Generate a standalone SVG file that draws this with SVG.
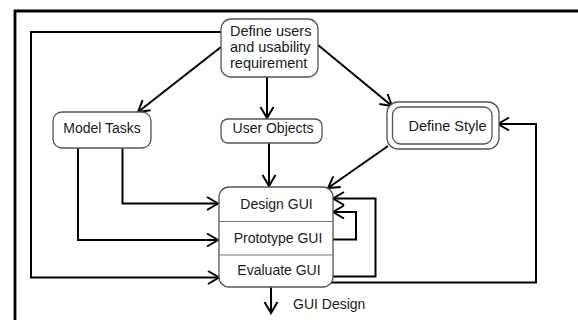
<svg xmlns="http://www.w3.org/2000/svg" width="578" height="320" viewBox="0 0 578 320">
  <style>
    .node { fill: #fff; stroke: #555; stroke-width: 1.3; }
    .divider { stroke: #777; stroke-width: 1.2; fill: none; }
    .label { font-family: "Liberation Sans", Arial, sans-serif; font-size: 14px; fill: #1a1a1a; }
    .mid { text-anchor: middle; }
    .wire { fill: none; stroke: #000; stroke-width: 2; }
    .arrow { marker-end: url(#open-arrow); }
    .frame { fill: none; stroke: #000; stroke-width: 2.8; }
  </style>
  <defs>
    <marker id="open-arrow" markerUnits="userSpaceOnUse" markerWidth="14" markerHeight="16" viewBox="0 0 14 16" refX="12" refY="8" orient="auto">
      <path d="M1,1.5 L12,8 L1,14.5" fill="none" stroke="#000" stroke-width="2"/>
    </marker>
  </defs>

  <rect x="0" y="0" width="578" height="320" fill="#fff"/>

  <!-- page frame -->
  <path class="frame" d="M15,320 V11 H578"/>

  <g id="connectors">
    <!-- requirements fan-out -->
    <path class="wire arrow" d="M221,47 L138,112"/>
    <path class="wire arrow" d="M267,77 V118"/>
    <path class="wire arrow" d="M318,45 L392,106"/>
    <!-- requirements to evaluation -->
    <path class="wire arrow" d="M221,32 H31 V277.5 H219"/>
    <!-- model tasks to design / prototype -->
    <path class="wire arrow" d="M122.5,148 V203.5 H218"/>
    <path class="wire arrow" d="M78,148 V240 H218"/>
    <!-- user objects to design -->
    <path class="wire arrow" d="M269,143 V186"/>
    <!-- style to design -->
    <path class="wire arrow" d="M388,146 L328,188"/>
    <!-- iteration loops -->
    <path class="wire arrow" d="M333,276.5 H375.5 V198.5 H333"/>
    <path class="wire arrow" d="M333,239.5 H356 V212 H333"/>
    <path class="wire arrow" d="M330,282.5 H536 V124 H498"/>
    <!-- output -->
    <path class="wire arrow" d="M271,287 V313"/>
  </g>

  <g id="define-users">
    <rect class="node" x="221" y="19" width="97" height="58" rx="10"/>
    <text class="label" x="230" y="36" style="font-size:14.5px">Define users</text>
    <text class="label" x="230" y="52" style="font-size:14.5px">and usability</text>
    <text class="label" x="230" y="68" style="font-size:14.5px">requirement</text>
  </g>

  <g id="model-tasks">
    <rect class="node" x="53" y="112" width="98" height="36" rx="9"/>
    <text class="label mid" x="102" y="133">Model Tasks</text>
  </g>

  <g id="user-objects">
    <rect class="node" x="221" y="119" width="101" height="24" rx="7"/>
    <text class="label mid" x="273" y="133">User Objects</text>
  </g>

  <g id="define-style">
    <rect class="node" x="387" y="102" width="112" height="47" rx="11"/>
    <rect class="node" x="392.5" y="107" width="99.5" height="37" rx="8"/>
    <text class="label mid" x="447.5" y="130.5" style="font-size:14.5px">Define Style</text>
  </g>

  <g id="gui-cycle">
    <rect class="node" x="219" y="187" width="114" height="100" rx="10"/>
    <line class="divider" x1="219" y1="221.5" x2="333" y2="221.5"/>
    <line class="divider" x1="219" y1="255" x2="333" y2="255"/>
    <text class="label mid" x="276.5" y="209">Design GUI</text>
    <text class="label mid" x="278" y="242.5">Prototype GUI</text>
    <text class="label mid" x="279" y="274.5">Evaluate GUI</text>
  </g>

  <g id="gui-design">
    <text class="label" x="293" y="308.5">GUI Design</text>
  </g>
</svg>
